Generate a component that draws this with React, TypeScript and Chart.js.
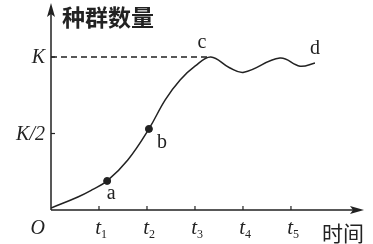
import React, { useEffect, useRef } from "react";
import { Chart, registerables } from "chart.js";

Chart.register(...registerables);

// curve: x in units of t-interval, y in units of K
const curveX = [0, 0.56, 0.85, 1.17, 1.6, 2.04, 2.38, 2.69, 3.0, 3.33, 3.72, 4.02, 4.77, 5.19, 5.5];
const curveY = [0.013, 0.085, 0.131, 0.19, 0.327, 0.53, 0.72, 0.85, 0.94, 1.0, 0.93, 0.9, 0.993, 0.94, 0.961];
const markerNames = ["a", "b"];
const markerX = [1.17, 2.04];
const markerY = [0.19, 0.53];
const peakNames = ["c", "d"];
const peakX = [3.33, 5.5];
const peakY = [1.0, 0.961];
const tickXs = [1, 2, 3, 4, 5];
const tickSubs = ["1", "2", "3", "4", "5"];
const yLevels = [1, 0.5];
const yLabels = ["K", "K/2"];
const yTitle = "种群数量";
const xTitle = "时间";

const INK = "#222";

const overlay = {
  id: "overlay",
  afterDraw(chart: any) {
    const ctx = chart.ctx;
    const xs = chart.scales.x;
    const ys = chart.scales.y;
    const ox = xs.getPixelForValue(0);
    const oy = ys.getPixelForValue(0);
    const right = chart.chartArea.right;
    const top = chart.chartArea.top;
    ctx.save();
    ctx.strokeStyle = INK;
    ctx.fillStyle = INK;
    ctx.lineWidth = 1.5;
    // axes
    ctx.beginPath();
    ctx.moveTo(ox, oy);
    ctx.lineTo(ox, top + 8);
    ctx.moveTo(ox, oy);
    ctx.lineTo(right - 8, oy);
    ctx.stroke();
    // arrows
    ctx.beginPath();
    ctx.moveTo(ox, top - 2);
    ctx.lineTo(ox - 4, top + 12);
    ctx.lineTo(ox, top + 9);
    ctx.lineTo(ox + 4, top + 12);
    ctx.closePath();
    ctx.fill();
    ctx.beginPath();
    ctx.moveTo(right + 2, oy);
    ctx.lineTo(right - 12, oy - 4);
    ctx.lineTo(right - 9, oy);
    ctx.lineTo(right - 12, oy + 4);
    ctx.closePath();
    ctx.fill();
    // x ticks
    ctx.lineWidth = 1.2;
    tickXs.forEach((v) => {
      const px = xs.getPixelForValue(v);
      ctx.beginPath();
      ctx.moveTo(px, oy);
      ctx.lineTo(px, oy - 4);
      ctx.stroke();
    });
    // y ticks
    yLevels.forEach((v) => {
      const py = ys.getPixelForValue(v);
      ctx.beginPath();
      ctx.moveTo(ox, py);
      ctx.lineTo(ox + 4, py);
      ctx.stroke();
    });
    // dashed K line
    const kx = xs.getPixelForValue(peakX[0]);
    const ky = ys.getPixelForValue(yLevels[0]);
    ctx.lineWidth = 1.4;
    ctx.setLineDash([6, 4]);
    ctx.beginPath();
    ctx.moveTo(ox, ky);
    ctx.lineTo(kx, ky);
    ctx.stroke();
    ctx.setLineDash([]);
    // y labels
    ctx.font = "italic 20px 'Liberation Serif', 'DejaVu Serif', serif";
    ctx.textAlign = "right";
    ctx.textBaseline = "middle";
    yLevels.forEach((v, i) => {
      ctx.fillText(yLabels[i], ox - 6, ys.getPixelForValue(v) + 1);
    });
    // origin
    ctx.fillText("O", ox - 6, oy + 19);
    // t labels
    ctx.textBaseline = "alphabetic";
    tickXs.forEach((v, i) => {
      const px = xs.getPixelForValue(v);
      ctx.font = "italic 21px 'Liberation Serif', 'DejaVu Serif', serif";
      ctx.textAlign = "right";
      ctx.fillText("t", px + 2, oy + 24);
      ctx.font = "12px 'Liberation Serif', 'DejaVu Serif', serif";
      ctx.textAlign = "left";
      ctx.fillText(tickSubs[i], px + 2, oy + 28);
    });
    // letters
    ctx.font = "20px 'Liberation Serif', 'DejaVu Serif', serif";
    ctx.textAlign = "center";
    ctx.textBaseline = "middle";
    markerNames.forEach((n, i) => {
      const px = xs.getPixelForValue(markerX[i]);
      const py = ys.getPixelForValue(markerY[i]);
      ctx.fillText(n, px + (i === 0 ? 4 : 13), py + (i === 0 ? 13 : 14));
    });
    peakNames.forEach((n, i) => {
      const px = xs.getPixelForValue(peakX[i]);
      const py = ys.getPixelForValue(peakY[i]);
      ctx.fillText(n, px + (i === 0 ? -9 : 0), py - 14);
    });
    // titles
    ctx.font = "bold 23px 'Noto Sans CJK SC', sans-serif";
    ctx.textAlign = "left";
    ctx.fillText(yTitle, ox + 11, top + 12);
    ctx.font = "21px 'Noto Sans CJK SC', sans-serif";
    ctx.fillText(xTitle, right - 40, oy + 23);
    ctx.restore();
  },
};

export default function App() {
  const ref = useRef<HTMLCanvasElement>(null);
  useEffect(() => {
    if (!ref.current) return;
    const chart = new Chart(ref.current, {
      type: "scatter",
      data: {
        datasets: [
          {
            data: curveX.map((x, i) => ({ x, y: curveY[i] })),
            showLine: true,
            borderColor: INK,
            borderWidth: 1.5,
            pointRadius: 0,
            tension: 0.4,
          } as any,
          {
            data: markerX.map((x, i) => ({ x, y: markerY[i] })),
            pointRadius: 3.5,
            backgroundColor: INK,
            borderColor: INK,
          },
        ],
      },
      options: {
        animation: false,
        responsive: false,
        layout: { padding: { left: 51, right: 11, top: 5, bottom: 34 } },
        plugins: { legend: { display: false }, tooltip: { enabled: false } },
        scales: {
          x: { type: "linear", display: false, min: 0, max: 6.48 },
          y: { type: "linear", display: false, min: 0, max: 1.34 },
        },
      },
      plugins: [overlay],
    });
    return () => chart.destroy();
  }, []);
  return (
    <div style={{ position: "fixed", left: 0, top: 0, width: 373, height: 244, background: "#fff" }}>
      <canvas ref={ref} width={373} height={244} />
    </div>
  );
}
